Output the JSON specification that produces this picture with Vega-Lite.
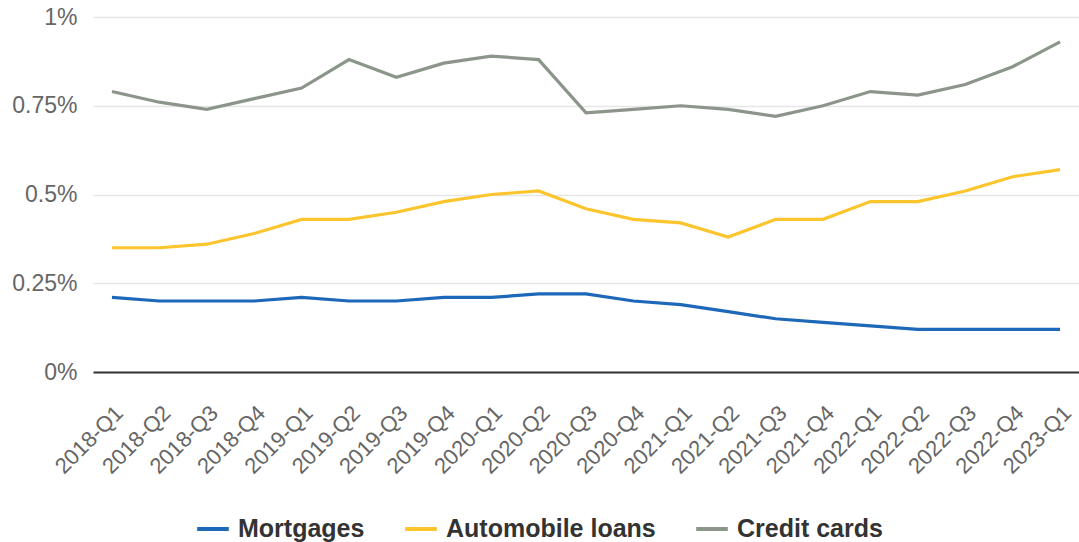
{
  "$schema": "https://vega.github.io/schema/vega-lite/v6.json",
  "width": 986,
  "height": 355,
  "autosize": {"type": "none"},
  "padding": {"left": 93, "top": 17, "right": 0, "bottom": 170},
  "background": "white",
  "config": {
    "view": {"stroke": null},
    "font": "Liberation Sans"
  },
  "data": {
    "values": [
      {"q": "2018-Q1", "s": "Mortgages", "v": 0.21}, {"q": "2018-Q1", "s": "Automobile loans", "v": 0.35}, {"q": "2018-Q1", "s": "Credit cards", "v": 0.79},
      {"q": "2018-Q2", "s": "Mortgages", "v": 0.20}, {"q": "2018-Q2", "s": "Automobile loans", "v": 0.35}, {"q": "2018-Q2", "s": "Credit cards", "v": 0.76},
      {"q": "2018-Q3", "s": "Mortgages", "v": 0.20}, {"q": "2018-Q3", "s": "Automobile loans", "v": 0.36}, {"q": "2018-Q3", "s": "Credit cards", "v": 0.74},
      {"q": "2018-Q4", "s": "Mortgages", "v": 0.20}, {"q": "2018-Q4", "s": "Automobile loans", "v": 0.39}, {"q": "2018-Q4", "s": "Credit cards", "v": 0.77},
      {"q": "2019-Q1", "s": "Mortgages", "v": 0.21}, {"q": "2019-Q1", "s": "Automobile loans", "v": 0.43}, {"q": "2019-Q1", "s": "Credit cards", "v": 0.80},
      {"q": "2019-Q2", "s": "Mortgages", "v": 0.20}, {"q": "2019-Q2", "s": "Automobile loans", "v": 0.43}, {"q": "2019-Q2", "s": "Credit cards", "v": 0.88},
      {"q": "2019-Q3", "s": "Mortgages", "v": 0.20}, {"q": "2019-Q3", "s": "Automobile loans", "v": 0.45}, {"q": "2019-Q3", "s": "Credit cards", "v": 0.83},
      {"q": "2019-Q4", "s": "Mortgages", "v": 0.21}, {"q": "2019-Q4", "s": "Automobile loans", "v": 0.48}, {"q": "2019-Q4", "s": "Credit cards", "v": 0.87},
      {"q": "2020-Q1", "s": "Mortgages", "v": 0.21}, {"q": "2020-Q1", "s": "Automobile loans", "v": 0.50}, {"q": "2020-Q1", "s": "Credit cards", "v": 0.89},
      {"q": "2020-Q2", "s": "Mortgages", "v": 0.22}, {"q": "2020-Q2", "s": "Automobile loans", "v": 0.51}, {"q": "2020-Q2", "s": "Credit cards", "v": 0.88},
      {"q": "2020-Q3", "s": "Mortgages", "v": 0.22}, {"q": "2020-Q3", "s": "Automobile loans", "v": 0.46}, {"q": "2020-Q3", "s": "Credit cards", "v": 0.73},
      {"q": "2020-Q4", "s": "Mortgages", "v": 0.20}, {"q": "2020-Q4", "s": "Automobile loans", "v": 0.43}, {"q": "2020-Q4", "s": "Credit cards", "v": 0.74},
      {"q": "2021-Q1", "s": "Mortgages", "v": 0.19}, {"q": "2021-Q1", "s": "Automobile loans", "v": 0.42}, {"q": "2021-Q1", "s": "Credit cards", "v": 0.75},
      {"q": "2021-Q2", "s": "Mortgages", "v": 0.17}, {"q": "2021-Q2", "s": "Automobile loans", "v": 0.38}, {"q": "2021-Q2", "s": "Credit cards", "v": 0.74},
      {"q": "2021-Q3", "s": "Mortgages", "v": 0.15}, {"q": "2021-Q3", "s": "Automobile loans", "v": 0.43}, {"q": "2021-Q3", "s": "Credit cards", "v": 0.72},
      {"q": "2021-Q4", "s": "Mortgages", "v": 0.14}, {"q": "2021-Q4", "s": "Automobile loans", "v": 0.43}, {"q": "2021-Q4", "s": "Credit cards", "v": 0.75},
      {"q": "2022-Q1", "s": "Mortgages", "v": 0.13}, {"q": "2022-Q1", "s": "Automobile loans", "v": 0.48}, {"q": "2022-Q1", "s": "Credit cards", "v": 0.79},
      {"q": "2022-Q2", "s": "Mortgages", "v": 0.12}, {"q": "2022-Q2", "s": "Automobile loans", "v": 0.48}, {"q": "2022-Q2", "s": "Credit cards", "v": 0.78},
      {"q": "2022-Q3", "s": "Mortgages", "v": 0.12}, {"q": "2022-Q3", "s": "Automobile loans", "v": 0.51}, {"q": "2022-Q3", "s": "Credit cards", "v": 0.81},
      {"q": "2022-Q4", "s": "Mortgages", "v": 0.12}, {"q": "2022-Q4", "s": "Automobile loans", "v": 0.55}, {"q": "2022-Q4", "s": "Credit cards", "v": 0.86},
      {"q": "2023-Q1", "s": "Mortgages", "v": 0.12}, {"q": "2023-Q1", "s": "Automobile loans", "v": 0.57}, {"q": "2023-Q1", "s": "Credit cards", "v": 0.93}
    ]
  },
  "mark": {"type": "line", "strokeWidth": 3.2},
  "encoding": {
    "x": {
      "field": "q", "type": "ordinal", "sort": null,
      "scale": {"type": "point", "padding": 0.4},
      "axis": {
        "title": null, "labelAngle": -45, "labelFontSize": 22, "labelColor": "#666666",
        "labelPadding": 30, "ticks": false, "domainColor": "#333333", "domainWidth": 2, "grid": false
      }
    },
    "y": {
      "field": "v", "type": "quantitative",
      "scale": {"domain": [0, 1], "nice": false},
      "axis": {
        "title": null, "values": [0, 0.25, 0.5, 0.75, 1],
        "labelExpr": "datum.value + '%'",
        "labelFontSize": 23, "labelColor": "#666666", "labelPadding": 16,
        "ticks": false, "domain": false, "gridColor": "#e6e6e6", "gridWidth": 1.5
      }
    },
    "color": {
      "field": "s", "type": "nominal",
      "sort": ["Mortgages", "Automobile loans", "Credit cards"],
      "scale": {"domain": ["Mortgages", "Automobile loans", "Credit cards"], "range": ["#1d68b9", "#fcc52e", "#8b958a"]},
      "legend": {
        "title": null, "orient": "none", "direction": "horizontal",
        "legendX": 102, "legendY": 494,
        "symbolType": "stroke", "symbolStrokeWidth": 4, "symbolSize": 1000,
        "labelFontSize": 25, "labelFontWeight": "bold", "labelColor": "#333333",
        "labelLimit": 400,
        "columnPadding": 32, "labelOffset": 7
      }
    }
  }
}
